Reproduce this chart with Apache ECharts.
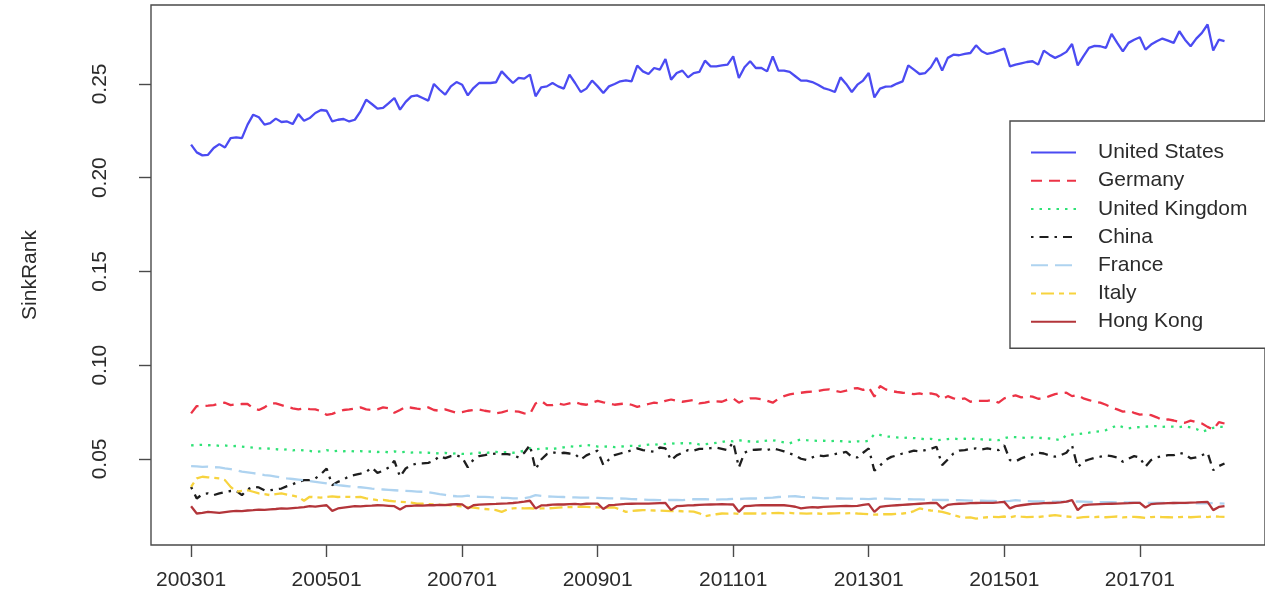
<!DOCTYPE html>
<html>
<head>
<meta charset="utf-8">
<script src="https://cdn.jsdelivr.net/npm/echarts@6/dist/echarts.min.js"></script>
<style>
  html, body { margin: 0; padding: 0; background: #ffffff; }
  #chart { width: 1265px; height: 612px; }
</style>
</head>
<body>
<div id="chart"></div>
<script>
// Monthly SinkRank scores, January 2003 to April 2018 (184 months)
const startYear = 2003;
const monthCount = 184;

const tickPositions = [0, 24, 48, 72, 96, 120, 144, 168];
const tickLabels = ['200301', '200501', '200701', '200901', '201101', '201301', '201501', '201701'];
const yTicks = [0.05, 0.10, 0.15, 0.20, 0.25];

const countryNames = ['United States', 'Germany', 'United Kingdom', 'China', 'France', 'Italy', 'Hong Kong'];

const unitedStates = [
  0.2176,0.2135,0.2119,0.2122,0.2158,0.2179,0.2161,0.2211,0.2215,0.2211,0.2283,0.2336,0.2322,0.2283,0.2291,0.2315,0.2297,0.2300,0.2286,0.2339,
  0.2304,0.2318,0.2345,0.2361,0.2357,0.2300,0.2309,0.2313,0.2300,0.2309,0.2354,0.2416,0.2393,0.2368,0.2372,0.2398,0.2425,0.2363,0.2404,0.2434,
  0.2439,0.2425,0.2411,
  0.2500,0.2469,0.2443,0.2487,0.2510,0.2496,0.2439,0.2478,0.2505,0.2505,0.2505,0.2509,0.2567,0.2535,0.2505,0.2532,0.2528,0.2550,0.2434,0.2482,
  0.2487,0.2505,0.2487,0.2475,0.2550,0.2505,0.2457,0.2475,0.2518,0.2487,0.2452,0.2487,0.2500,0.2514,0.2519,0.2514,0.2598,0.2567,0.2553,0.2585,
  0.2576,0.2633,0.2523,0.2558,0.2571,0.2535,0.2558,
  0.2564,0.2624,0.2594,0.2594,0.2599,0.2603,0.2647,0.2532,0.2589,0.2621,0.2585,0.2585,0.2567,0.2647,0.2571,0.2571,0.2564,0.2541,0.2518,0.2518,
  0.2510,0.2496,0.2478,0.2469,0.2457,0.2535,0.2500,0.2457,0.2496,0.2518,0.2558,0.2428,0.2475,0.2486,0.2487,0.2502,0.2514,0.2599,0.2576,0.2553,
  0.2558,0.2589,0.2639,0.2571,0.2639,0.2656,0.2653,0.2660,
  0.2665,0.2706,0.2674,0.2660,0.2667,0.2678,0.2688,0.2594,0.2603,0.2610,0.2617,0.2621,0.2603,0.2678,0.2656,0.2639,0.2653,0.2671,0.2713,0.2599,
  0.2647,0.2692,0.2703,0.2701,0.2692,0.2767,0.2719,0.2674,0.2719,0.2736,0.2749,0.2683,0.2710,0.2728,0.2742,0.2731,0.2719,0.2781,0.2736,0.2701,
  0.2742,0.2772,0.2817,0.2678,0.2736,0.2728
];

const germany = [
  0.0743,0.0782,0.0782,0.0784,0.0787,0.0796,0.0800,0.0787,0.0791,0.0793,0.0793,0.0770,0.0761,0.0775,0.0796,0.0796,0.0787,0.0778,0.0770,0.0764,
  0.0770,0.0766,0.0764,0.0755,0.0735,0.0740,0.0752,0.0761,0.0764,0.0768,0.0775,0.0764,0.0761,0.0764,0.0775,0.0770,0.0746,0.0761,0.0778,0.0773,
  0.0768,0.0764,0.0775,
  0.0761,0.0757,0.0764,0.0755,0.0746,0.0750,0.0757,0.0761,0.0764,0.0757,0.0752,0.0743,0.0748,0.0757,0.0754,0.0752,0.0743,0.0739,0.0796,0.0810,
  0.0787,0.0787,0.0796,0.0789,0.0796,0.0803,0.0793,0.0789,0.0800,0.0810,0.0802,0.0796,0.0789,0.0793,0.0796,0.0789,0.0778,0.0785,0.0793,0.0800,
  0.0796,0.0810,0.0817,0.0810,0.0805,0.0810,0.0814,
  0.0796,0.0800,0.0807,0.0807,0.0805,0.0817,0.0823,0.0800,0.0814,0.0823,0.0823,0.0819,0.0810,0.0800,0.0821,0.0835,0.0844,0.0850,0.0853,0.0857,
  0.0859,0.0862,0.0868,0.0871,0.0864,0.0857,0.0864,0.0875,0.0878,0.0868,0.0882,0.0832,0.0889,0.0871,0.0862,0.0857,0.0853,0.0850,0.0846,0.0850,
  0.0843,0.0850,0.0843,0.0817,0.0835,0.0823,0.0817,0.0823,
  0.0805,0.0810,0.0810,0.0810,0.0814,0.0800,0.0823,0.0832,0.0839,0.0828,0.0835,0.0832,0.0821,0.0823,0.0835,0.0846,0.0850,0.0853,0.0835,0.0841,
  0.0823,0.0814,0.0805,0.0800,0.0789,0.0775,0.0764,0.0752,0.0757,0.0746,0.0736,0.0739,0.0734,0.0722,0.0707,0.0711,0.0705,0.0698,0.0693,0.0704,
  0.0696,0.0689,0.0671,0.0657,0.0696,0.0689
];

const unitedKingdom = [
  0.0572,0.0574,0.0575,0.0573,0.0574,0.0570,0.0572,0.0568,0.0569,0.0566,0.0563,0.0560,0.0556,0.0558,0.0554,0.0552,0.0548,0.0551,0.0546,0.0548,
  0.0545,0.0543,0.0538,0.0541,0.0547,0.0540,0.0544,0.0541,0.0543,0.0540,0.0542,0.0538,0.0540,0.0537,0.0539,0.0535,0.0540,0.0536,0.0538,0.0534,
  0.0536,0.0533,0.0533,
  0.0531,0.0529,0.0532,0.0528,0.0530,0.0527,0.0526,0.0530,0.0533,0.0531,0.0535,0.0538,0.0534,0.0536,0.0533,0.0536,0.0545,0.0556,0.0552,0.0555,
  0.0556,0.0553,0.0558,0.0562,0.0568,0.0565,0.0570,0.0574,0.0572,0.0566,0.0565,0.0567,0.0563,0.0566,0.0568,0.0570,0.0568,0.0572,0.0576,0.0579,
  0.0575,0.0580,0.0583,0.0580,0.0584,0.0582,0.0586,
  0.0577,0.0579,0.0582,0.0586,0.0590,0.0597,0.0594,0.0600,0.0596,0.0593,0.0591,0.0595,0.0598,0.0600,0.0594,0.0588,0.0583,0.0596,0.0604,0.0600,
  0.0598,0.0596,0.0597,0.0594,0.0597,0.0595,0.0593,0.0591,0.0594,0.0592,0.0597,0.0632,0.0628,0.0620,0.0618,0.0615,0.0612,0.0614,0.0611,0.0609,
  0.0605,0.0607,0.0600,0.0603,0.0606,0.0609,0.0605,0.0608,
  0.0606,0.0609,0.0604,0.0602,0.0603,0.0600,0.0610,0.0618,0.0616,0.0614,0.0612,0.0615,0.0613,0.0611,0.0609,0.0605,0.0600,0.0627,0.0630,0.0632,
  0.0636,0.0640,0.0645,0.0648,0.0654,0.0665,0.0681,0.0670,0.0663,0.0668,0.0670,0.0672,0.0674,0.0675,0.0671,0.0673,0.0672,0.0670,0.0674,0.0668,
  0.0660,0.0645,0.0655,0.0666,0.0672,0.0670
];

const china = [
  0.0351,0.0289,0.0312,0.0316,0.0307,0.0316,0.0323,0.0329,0.0330,0.0307,0.0338,0.0351,0.0348,0.0333,0.0333,0.0338,0.0342,0.0355,0.0365,0.0378,
  0.0387,0.0387,0.0396,0.0419,0.0449,0.0360,0.0378,0.0390,0.0408,0.0415,0.0422,0.0431,0.0454,0.0426,0.0437,0.0454,0.0490,0.0405,0.0449,0.0467,
  0.0476,0.0476,0.0479,
  0.0490,0.0515,0.0504,0.0515,0.0519,0.0508,0.0455,0.0497,0.0515,0.0520,0.0526,0.0529,0.0526,0.0526,0.0520,0.0508,0.0533,0.0574,0.0444,0.0497,
  0.0526,0.0536,0.0529,0.0533,0.0529,0.0526,0.0497,0.0519,0.0533,0.0544,0.0467,0.0497,0.0520,0.0529,0.0536,0.0547,0.0556,0.0547,0.0542,0.0538,
  0.0561,0.0556,0.0493,0.0519,0.0533,0.0547,0.0544,
  0.0554,0.0553,0.0558,0.0560,0.0554,0.0547,0.0590,0.0455,0.0533,0.0547,0.0549,0.0551,0.0547,0.0556,0.0549,0.0540,0.0529,0.0519,0.0501,0.0494,
  0.0508,0.0519,0.0515,0.0519,0.0526,0.0531,0.0538,0.0511,0.0508,0.0533,0.0556,0.0437,0.0465,0.0494,0.0511,0.0519,0.0529,0.0536,0.0544,0.0540,
  0.0547,0.0554,0.0565,0.0467,0.0497,0.0529,0.0544,0.0547,
  0.0554,0.0556,0.0551,0.0556,0.0551,0.0547,0.0572,0.0494,0.0487,0.0503,0.0515,0.0524,0.0533,0.0529,0.0519,0.0512,0.0520,0.0533,0.0572,0.0455,
  0.0487,0.0497,0.0506,0.0512,0.0519,0.0515,0.0508,0.0485,0.0501,0.0515,0.0508,0.0458,0.0494,0.0508,0.0515,0.0520,0.0520,0.0533,0.0525,0.0503,
  0.0508,0.0520,0.0533,0.0440,0.0462,0.0476
];

const france = [
  0.0462,0.0460,0.0458,0.0459,0.0456,0.0455,0.0450,0.0446,0.0440,0.0432,0.0428,0.0424,0.0420,0.0414,0.0411,0.0406,0.0401,0.0396,0.0393,0.0390,
  0.0386,0.0382,0.0378,0.0374,0.0370,0.0365,0.0360,0.0357,0.0354,0.0351,0.0349,0.0346,0.0342,0.0339,0.0337,0.0335,0.0333,0.0331,0.0330,0.0328,
  0.0326,0.0325,0.0323,
  0.0318,0.0312,0.0308,0.0303,0.0301,0.0300,0.0304,0.0299,0.0298,0.0298,0.0296,0.0295,0.0293,0.0292,0.0290,0.0289,0.0290,0.0296,0.0307,0.0303,
  0.0300,0.0299,0.0298,0.0297,0.0296,0.0295,0.0294,0.0294,0.0293,0.0292,0.0291,0.0290,0.0289,0.0289,0.0288,0.0286,0.0285,0.0283,0.0282,0.0281,
  0.0280,0.0280,0.0282,0.0281,0.0280,0.0283,0.0285,
  0.0286,0.0285,0.0284,0.0283,0.0284,0.0285,0.0287,0.0286,0.0288,0.0289,0.0289,0.0290,0.0292,0.0294,0.0297,0.0299,0.0300,0.0301,0.0298,0.0296,
  0.0294,0.0292,0.0290,0.0290,0.0289,0.0289,0.0288,0.0288,0.0287,0.0287,0.0286,0.0288,0.0289,0.0288,0.0287,0.0286,0.0285,0.0285,0.0284,0.0284,
  0.0283,0.0282,0.0282,0.0281,0.0281,0.0280,0.0280,0.0279,
  0.0278,0.0277,0.0277,0.0276,0.0276,0.0275,0.0275,0.0276,0.0280,0.0277,0.0275,0.0274,0.0274,0.0273,0.0273,0.0272,0.0272,0.0271,0.0271,0.0273,
  0.0272,0.0271,0.0270,0.0270,0.0269,0.0269,0.0268,0.0268,0.0268,0.0267,0.0267,0.0266,0.0266,0.0266,0.0265,0.0265,0.0265,0.0264,0.0264,0.0264,
  0.0263,0.0263,0.0263,0.0264,0.0263,0.0262
];

const italy = [
  0.0351,0.0396,0.0405,0.0402,0.0399,0.0396,0.0387,0.0351,0.0325,0.0330,0.0333,0.0325,0.0316,0.0312,0.0307,0.0312,0.0316,0.0310,0.0304,0.0298,
  0.0277,0.0298,0.0296,0.0294,0.0297,0.0300,0.0297,0.0298,0.0298,0.0296,0.0298,0.0290,0.0285,0.0280,0.0282,0.0277,0.0274,0.0271,0.0270,0.0267,
  0.0262,0.0261,0.0259,
  0.0258,0.0256,0.0255,0.0253,0.0250,0.0247,0.0243,0.0240,0.0236,0.0233,0.0230,0.0227,0.0218,0.0230,0.0236,0.0238,0.0236,0.0237,0.0235,0.0236,
  0.0236,0.0238,0.0240,0.0242,0.0243,0.0244,0.0245,0.0244,0.0243,0.0242,0.0241,0.0240,0.0241,0.0230,0.0218,0.0222,0.0225,0.0227,0.0226,0.0225,
  0.0224,0.0223,0.0222,0.0223,0.0221,0.0220,0.0219,
  0.0210,0.0195,0.0200,0.0205,0.0209,0.0208,0.0210,0.0207,0.0209,0.0210,0.0209,0.0208,0.0210,0.0211,0.0212,0.0210,0.0212,0.0209,0.0210,0.0208,
  0.0210,0.0209,0.0207,0.0209,0.0210,0.0211,0.0210,0.0212,0.0209,0.0207,0.0205,0.0203,0.0204,0.0206,0.0205,0.0207,0.0209,0.0212,0.0222,0.0236,
  0.0230,0.0225,0.0222,0.0218,0.0210,0.0200,0.0192,0.0187,
  0.0188,0.0182,0.0186,0.0189,0.0191,0.0190,0.0193,0.0188,0.0195,0.0192,0.0190,0.0191,0.0190,0.0194,0.0197,0.0200,0.0196,0.0193,0.0191,0.0186,
  0.0190,0.0191,0.0190,0.0192,0.0189,0.0191,0.0193,0.0188,0.0190,0.0191,0.0189,0.0186,0.0190,0.0191,0.0190,0.0189,0.0188,0.0190,0.0192,0.0189,
  0.0191,0.0193,0.0190,0.0194,0.0192,0.0191
];

const hongKong = [
  0.0248,0.0209,0.0212,0.0218,0.0215,0.0212,0.0216,0.0220,0.0223,0.0222,0.0225,0.0227,0.0230,0.0228,0.0231,0.0233,0.0236,0.0235,0.0238,0.0240,
  0.0243,0.0248,0.0246,0.0250,0.0253,0.0223,0.0236,0.0240,0.0244,0.0248,0.0247,0.0250,0.0251,0.0253,0.0252,0.0250,0.0248,0.0230,0.0248,0.0250,
  0.0252,0.0251,0.0253,
  0.0253,0.0255,0.0254,0.0257,0.0259,0.0258,0.0236,0.0253,0.0256,0.0258,0.0259,0.0260,0.0262,0.0263,0.0265,0.0268,0.0272,0.0277,0.0236,0.0252,
  0.0253,0.0256,0.0258,0.0257,0.0259,0.0260,0.0258,0.0261,0.0262,0.0262,0.0233,0.0253,0.0255,0.0258,0.0260,0.0261,0.0262,0.0262,0.0262,0.0263,
  0.0264,0.0265,0.0227,0.0248,0.0250,0.0252,0.0253,
  0.0255,0.0256,0.0257,0.0258,0.0259,0.0258,0.0257,0.0218,0.0248,0.0250,0.0252,0.0253,0.0254,0.0253,0.0254,0.0253,0.0250,0.0245,0.0236,0.0240,
  0.0243,0.0241,0.0244,0.0246,0.0247,0.0248,0.0249,0.0248,0.0250,0.0255,0.0259,0.0218,0.0244,0.0248,0.0251,0.0253,0.0255,0.0257,0.0259,0.0261,
  0.0263,0.0265,0.0266,0.0236,0.0255,0.0259,0.0261,0.0262,
  0.0264,0.0265,0.0266,0.0266,0.0266,0.0268,0.0271,0.0236,0.0248,0.0253,0.0257,0.0260,0.0262,0.0264,0.0265,0.0266,0.0268,0.0272,0.0280,0.0227,
  0.0253,0.0256,0.0258,0.0259,0.0260,0.0261,0.0262,0.0263,0.0264,0.0266,0.0266,0.0241,0.0259,0.0262,0.0263,0.0264,0.0265,0.0266,0.0266,0.0267,
  0.0268,0.0270,0.0271,0.0227,0.0244,0.0248
];

// Month codes (yyyymm) for each observation
const monthCodes = [];
for (let i = 0; i < monthCount; i++) {
  const y = startYear + Math.floor(i / 12);
  const m = (i % 12) + 1;
  monthCodes.push(String(y) + (m < 10 ? '0' + m : String(m)));
}

const seriesValues = [unitedStates, germany, unitedKingdom, china, france, italy, hongKong];
const seriesColors = ['#4b4bf2', '#ec3346', '#2fe276', '#1e1e1e', '#aed3f0', '#f7d33e', '#b3353a'];
// R-style line types: solid, dashed, dotted, dotdash, longdash, twodash, solid
const seriesDash = ['solid', [11, 7], [2.5, 6], [2.5, 6, 9, 6], [17, 7], [5, 5, 13, 5], 'solid'];

const fontFamily = '"Liberation Sans", Arial, Helvetica, sans-serif';
const inkColor = '#2b2b2b';
const frameColor = '#4a4a4a';

const chart = echarts.init(document.getElementById('chart'), null, { renderer: 'canvas' });

const series = countryNames.map((name, k) => ({
  name: name,
  type: 'line',
  data: seriesValues[k].map((v, i) => [i, v]),
  showSymbol: false,
  symbol: 'none',
  animation: false,
  lineStyle: { color: seriesColors[k], width: 2.3, type: seriesDash[k] },
  itemStyle: { color: seriesColors[k] },
  emphasis: { disabled: true },
  z: 2 + k
}));

chart.setOption({
  backgroundColor: '#ffffff',
  animation: false,
  textStyle: { fontFamily: fontFamily },
  grid: {
    left: 151, top: 5, width: 1122, height: 540,
    show: true, borderColor: frameColor, borderWidth: 1.4, backgroundColor: 'transparent'
  },
  xAxis: {
    type: 'value',
    min: -7.1,
    max: 190.17,
    axisLine: { show: false, onZero: false },
    splitLine: { show: false },
    axisTick: {
      show: true, length: 12, inside: false,
      customValues: tickPositions,
      lineStyle: { color: frameColor, width: 1.4 }
    },
    axisLabel: {
      show: true,
      customValues: tickPositions,
      margin: 25,
      color: inkColor,
      fontSize: 21,
      fontFamily: fontFamily,
      formatter: (v) => tickLabels[tickPositions.indexOf(v)] || ''
    }
  },
  yAxis: {
    type: 'value',
    min: 0.0041,
    max: 0.2921,
    name: 'SinkRank',
    nameLocation: 'middle',
    nameRotate: 90,
    nameGap: 110,
    nameTextStyle: { color: inkColor, fontSize: 21, fontFamily: fontFamily },
    axisLine: { show: false, onZero: false },
    splitLine: { show: false },
    axisTick: {
      show: true, length: 12, inside: false,
      customValues: yTicks,
      lineStyle: { color: frameColor, width: 1.4 }
    },
    axisLabel: {
      show: true,
      customValues: yTicks,
      rotate: 90,
      margin: 40,
      color: inkColor,
      fontSize: 21,
      fontFamily: fontFamily,
      formatter: (v) => v.toFixed(2)
    }
  },
  legend: {
    show: true,
    orient: 'vertical',
    left: 1010,
    top: 121,
    padding: [21, 40, 16, 20],
    itemGap: 7.2,
    itemWidth: 45,
    itemHeight: 14,
    borderColor: frameColor,
    borderWidth: 1.4,
    backgroundColor: '#ffffff',
    selectedMode: false,
    data: countryNames,
    itemStyle: { opacity: 0 },
    textStyle: {
      color: inkColor, fontSize: 21, lineHeight: 21, fontFamily: fontFamily,
      padding: [0, 0, 0, 17]
    }
  },
  tooltip: { show: false },
  series: series
});
</script>
</body>
</html>
